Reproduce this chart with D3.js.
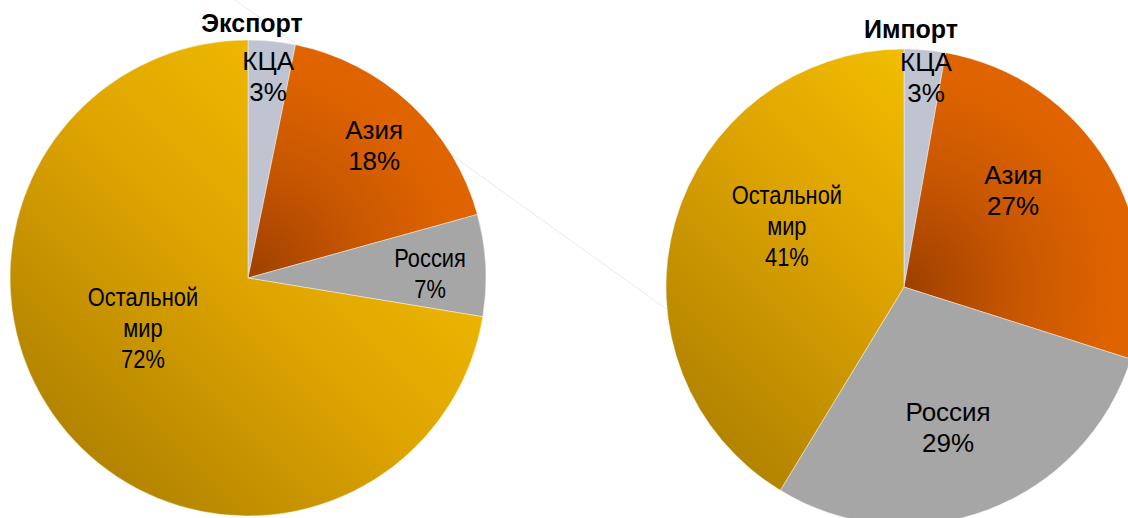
<!DOCTYPE html>
<html><head><meta charset="utf-8">
<script src="https://cdn.jsdelivr.net/npm/d3@7"></script>
<style>body{margin:0;background:#fff}svg{display:block}text{font-family:"Liberation Sans",Arial,sans-serif}</style>
</head><body>
<svg id="c" width="1128" height="518"></svg>
<script>
// ---- data ----
const categories = ["КЦА", "Азия", "Россия", "Остальной мир"];
const exportValues = [3.2, 17.5, 6.9, 72.4];
const importValues = [2.8, 27.1, 28.8, 41.3];
const titles = ["Экспорт", "Импорт"];

// ---- layout / style (not data) ----
const W = 1128, H = 518, R = 238;
const pies = [
  {title: titles[0], values: exportValues, cx: 248, cy: 278, titleX: 252, titleY: 32,
   labels: [[0.851, 5.7, 1], [0.770, 43.5, 1], [0.765, 88.7, 0.84], [0.489, 244.5, 0.84]]},
  {title: titles[1], values: importValues, cx: 904, cy: 287, titleX: 911, titleY: 38,
   labels: [[0.883, 6.0, 1], [0.612, 48.5, 1], [0.619, 162.6, 1], [0.555, 297.5, 0.84]]}
];
const labelLines = [["КЦА"], ["Азия"], ["Россия"], ["Остальной", "мир"]];
const fills = ["#C0C4D1", "url(#asia-{i})", "#A6A6A6", "url(#gold-{i})"];

const svg = d3.select("#c");
const defs = svg.append("defs");

// faint connector line behind the pies
svg.append("line")
  .attr("x1", 235).attr("y1", 0).attr("x2", 700).attr("y2", 333)
  .attr("stroke", "#E3EDED").attr("stroke-width", 1);

const pieGen = d3.pie().sort(null).value(d => d);
const arc = d3.arc().innerRadius(0).outerRadius(R);

pies.forEach((p, i) => {
  const gg = defs.append("linearGradient").attr("id", "gold-" + i)
    .attr("gradientUnits", "userSpaceOnUse")
    .attr("x1", R * 0.7).attr("y1", -R * 0.7).attr("x2", -R * 0.7).attr("y2", R * 0.7);
  gg.append("stop").attr("offset", 0).attr("stop-color", i ? "#F8C800" : "#F4BE00");
  gg.append("stop").attr("offset", 0.5).attr("stop-color", "#DFA500");
  gg.append("stop").attr("offset", 1).attr("stop-color", "#B38400");

  const ag = defs.append("radialGradient").attr("id", "asia-" + i)
    .attr("gradientUnits", "userSpaceOnUse").attr("cx", 0).attr("cy", 0).attr("r", R);
  ag.append("stop").attr("offset", 0).attr("stop-color", "#9E4000");
  ag.append("stop").attr("offset", 0.5).attr("stop-color", "#C95700");
  ag.append("stop").attr("offset", 0.9).attr("stop-color", "#DF6400");

  const g = svg.append("g").attr("transform", `translate(${p.cx},${p.cy})`);
  const arcs = pieGen(p.values);
  g.selectAll("path").data(arcs).enter().append("path")
    .attr("d", arc)
    .attr("fill", (d, k) => fills[k].replace("{i}", i))
    .attr("stroke", "rgba(255,255,255,0.55)").attr("stroke-width", 0.75);

  arcs.forEach((d, k) => {
    const [rf, ang, sx] = p.labels[k];
    const a = ang * Math.PI / 180;
    const x = Math.sin(a) * rf * R, y = -Math.cos(a) * rf * R;
    const lines = labelLines[k].concat([Math.round(p.values[k]) + "%"]);
    const lh = 31;
    const t = g.append("text")
      .attr("transform", `translate(${x},${y}) scale(${sx},1)`)
      .attr("text-anchor", "middle").attr("font-size", 26).attr("fill", "#000");
    lines.forEach((s, j) => {
      t.append("tspan").attr("x", 0)
        .attr("y", -(lines.length - 1) * lh / 2 + j * lh + 9)
        .text(s);
    });
  });

  svg.append("text").attr("x", p.titleX).attr("y", p.titleY)
    .attr("text-anchor", "middle").attr("font-size", 25).attr("font-weight", "bold")
    .attr("fill", "#000").text(p.title);
});
</script>
</body></html>
